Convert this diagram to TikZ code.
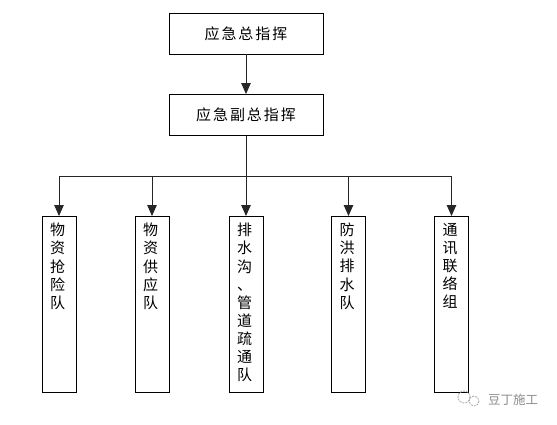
\documentclass[tikz,border=0pt]{standalone}
\usepackage{fontspec}
\setmainfont{Noto Sans CJK SC}
\usetikzlibrary{arrows.meta}
\tikzset{
  box/.style={draw=black, line width=0.9pt, fill=white, inner sep=0pt},
  topbox/.style={box, minimum width=154pt, minimum height=41pt, font=\fontsize{15}{18}\selectfont\addfontfeatures{LetterSpace=13}},
  colbox/.style={box, minimum width=34pt, minimum height=176pt, anchor=north},
  coltext/.style={anchor=north, inner sep=0pt, align=center, font=\fontsize{15}{18.1}\selectfont},
  link/.style={line width=0.9pt, draw=black!85},
  arrow/.style={link, -{Triangle[length=11pt,width=9.5pt]}},
  wmtext/.style={text=black!45, font=\fontsize{12.5}{14}\selectfont}
}
\begin{document}
\begin{tikzpicture}[x=1pt,y=-1pt]
\useasboundingbox (0,0) rectangle (557,424);
\node[topbox] (chief) at (246,33.5) {应急总指挥};
\node[topbox] (deputy) at (246,115) {应急副总指挥};
\coordinate (bus) at (246,176);
\node[colbox] (t1) at (59,216) {};
\node[colbox] (t2) at (152,216) {};
\node[colbox] (t3) at (246,216) {};
\node[colbox] (t4) at (348.5,216) {};
\node[colbox] (t5) at (451.5,216) {};
\node[coltext] (l1) at (57.5,223) {物\\资\\抢\\险\\队};
\node[coltext] (l2) at (150.5,223) {物\\资\\供\\应\\队};
\node[coltext] (l3) at (244.5,223) {排\\水\\沟\\、\\管\\道\\疏\\通\\队};
\node[coltext] (l4) at (347,223) {防\\洪\\排\\水\\队};
\node[coltext] (l5) at (450,223) {通\\讯\\联\\络\\组};
\draw[arrow] (chief) -- (deputy);
\draw[link] (deputy) -- (bus);
\draw[link] (t1.north |- bus) -- (t5.north |- bus);
\draw[arrow] (t1.north |- bus) -- (t1.north);
\draw[arrow] (t2.north |- bus) -- (t2.north);
\draw[arrow] (bus) -- (t3.north);
\draw[arrow] (t4.north |- bus) -- (t4.north);
\draw[arrow] (t5.north |- bus) -- (t5.north);
\node[wmtext] (wm) at (513,400) {豆丁施工};
\draw[black!35, line width=0.8pt, dash pattern=on 2pt off 1pt] (464,397) circle[radius=6];
\draw[black!35, line width=0.8pt, dash pattern=on 2pt off 1pt] (474,401) circle[radius=5];
\end{tikzpicture}
\end{document}
